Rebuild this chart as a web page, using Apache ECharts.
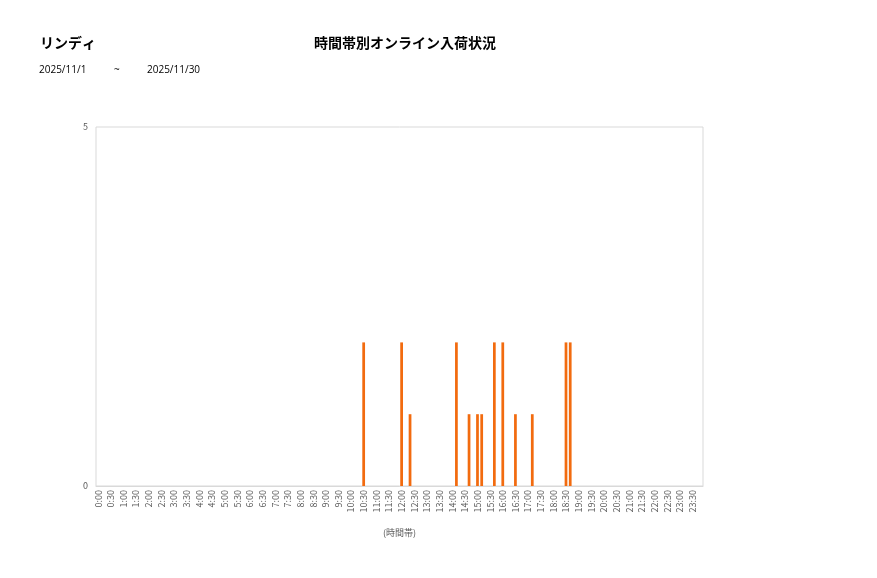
<!DOCTYPE html>
<html>
<head>
<meta charset="utf-8">
<script src="https://cdn.jsdelivr.net/npm/echarts@6/dist/echarts.min.js"></script>
<style>
  html,body{margin:0;padding:0;background:#fff;}
  #chart{width:877px;height:578px;}
</style>
</head>
<body>
<div id="chart"></div>
<script>
// 10分刻みの時間帯（0:00〜23:50）
let slotHours = [0,1,2,3,4,5,6,7,8,9,10,11,12,13,14,15,16,17,18,19,20,21,22,23];
let slotMinutes = ['00','10','20','30','40','50'];

// 入荷があった時間帯と件数
let arrivalTimes = ['10:30','12:00','12:20','14:10','14:40','15:00','15:10','15:40','16:00','16:30','17:10','18:30','18:40'];
let arrivalCounts = [2,2,1,2,1,1,1,2,2,1,1,2,2];

let yTicks = [0,5];

let categories = [];
slotHours.forEach(h => {
    slotMinutes.forEach(m => {
        categories.push(h + ':' + m);
    });
});

let values = categories.map(c => {
    let idx = arrivalTimes.indexOf(c);
    return idx >= 0 ? arrivalCounts[idx] : 0;
});

let myChart = echarts.init(document.getElementById('chart'));
let font = 'Segoe UI, "Noto Sans CJK JP", "Noto Sans", sans-serif';

myChart.setOption({
    animation:false,
    textStyle:{fontFamily:font},
    graphic:[
        {type:'text',left:40,top:36,style:{text:'リンディ',font:'bold 14px "Noto Sans CJK JP"',fill:'#000'}},
        {type:'text',left:314,top:36,style:{text:'時間帯別オンライン入荷状況',font:'bold 14px "Noto Sans CJK JP"',fill:'#000'}},
        {type:'text',left:39,top:65,style:{text:'2025/11/1',font:'10px "Open Sans"',fill:'#000'}},
        {type:'text',left:114,top:65,style:{text:'~',font:'10px "Open Sans"',fill:'#000'}},
        {type:'text',left:147,top:65,style:{text:'2025/11/30',font:'10px "Open Sans"',fill:'#000'}}
    ],
    grid:{
        left:96,
        right:174,
        top:127,
        bottom:92,
        show:true,
        borderColor:'#d9d9d9',
        borderWidth:1
    },
    xAxis:{
        type:'category',
        data:categories,
        name:'(時間帯)',
        nameLocation:'middle',
        nameGap:42,
        nameTextStyle:{fontSize:9,color:'#595959'},
        axisLine:{lineStyle:{color:'#d9d9d9'}},
        axisTick:{show:false},
        axisLabel:{
            interval:2,
            rotate:90,
            fontSize:9,
            color:'#595959',
            margin:4
        }
    },
    yAxis:{
        type:'value',
        min:yTicks[0],
        max:yTicks[1],
        interval:5,
        splitLine:{show:false},
        axisLine:{show:false},
        axisTick:{show:false},
        axisLabel:{fontSize:9,color:'#595959',margin:8}
    },
    series:[{
        type:'bar',
        data:values,
        barCategoryGap:'35%',
        itemStyle:{color:'#f26b0f'}
    }]
});
</script>
</body>
</html>
